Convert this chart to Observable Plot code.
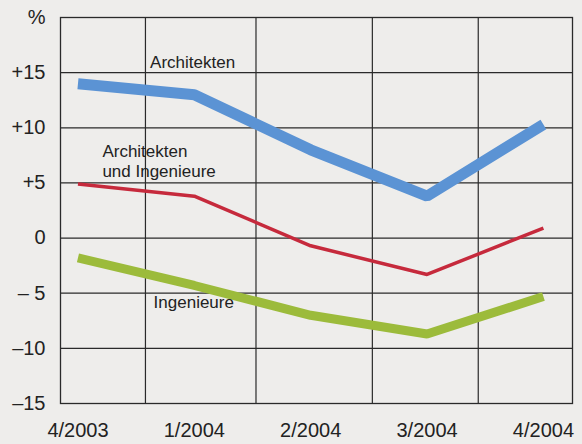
<!DOCTYPE html>
<html>
<head>
<meta charset="utf-8">
<script src="https://cdn.jsdelivr.net/npm/d3@7"></script>
<script src="https://cdn.jsdelivr.net/npm/@observablehq/plot@0.6"></script>
<style>
  html, body { margin: 0; padding: 0; background: #eeedeb; }
  #chart { width: 582px; height: 444px; }
</style>
</head>
<body>
<div id="chart"></div>
<script>
const categories = ["4/2003", "1/2004", "2/2004", "3/2004", "4/2004"];
const architekten = [14.0, 13.0, 8.0, 3.8, 10.3];
const archUndIng = [4.9, 3.8, -0.7, -3.3, 0.9];
const ingenieure = [-1.8, -4.3, -7.0, -8.7, -5.3];

const yTicks = [-15, -10, -5, 0, 5, 10, 15, 20];
const yTickLabels = ["\u201315", "\u201310", "\u2013 5", "0", "+5", "+10", "+15", "%"];
const gridX = [0.58, 1.53, 2.53, 3.44];

const seriesNames = ["Architekten", "Architekten und Ingenieure", "Ingenieure"];
const seriesColors = ["#5b93d4", "#c62a3c", "#9cbb3b"];
const seriesWidths = [11, 3.5, 9];

const labelTexts = ["Architekten", "Architekten\nund Ingenieure", "Ingenieure"];
const labelX = [0.62, 0.21, 0.65];
const labelY = [16.0, 7.0, -5.8];

const seriesValues = [architekten, archUndIng, ingenieure];
const rows = seriesValues.map((vals, s) =>
  vals.map((v, i) => ({series: seriesNames[s], i, v})));
const labels = labelTexts.map((t, k) => ({t, x: labelX[k], y: labelY[k]}));

const chart = Plot.plot({
  width: 582,
  height: 444,
  marginLeft: 60,
  marginRight: 10,
  marginTop: 17,
  marginBottom: 41,
  style: {background: "#eeedeb", fontFamily: "'Liberation Sans', Arial, sans-serif", color: "#222", overflow: "visible"},
  x: {domain: [-0.15, 4.25], ticks: [0, 1, 2, 3, 4], tickFormat: i => categories[i]},
  y: {domain: [-15, 20], ticks: yTicks, tickFormat: d => yTickLabels[yTicks.indexOf(d)]},
  marks: [
    Plot.ruleY(yTicks, {stroke: "#2a2a2a", strokeWidth: 1.2}),
    Plot.ruleX(gridX, {stroke: "#2a2a2a", strokeWidth: 1.2}),
    Plot.frame({stroke: "#2a2a2a", strokeWidth: 1.3}),
    Plot.axisX({ticks: [0, 1, 2, 3, 4], tickFormat: i => categories[i], tickSize: 0, tickPadding: 19, fontSize: 20, label: null}),
    Plot.axisY({ticks: yTicks, tickFormat: d => yTickLabels[yTicks.indexOf(d)], tickSize: 0, tickPadding: 15, fontSize: 20, label: null}),
    ...seriesValues.map((vals, s) =>
      Plot.line(rows[s], {x: "i", y: "v", stroke: seriesColors[s], strokeWidth: seriesWidths[s], strokeLinejoin: "miter", strokeLinecap: "butt"})),
    Plot.text(labels, {x: "x", y: "y", text: "t", textAnchor: "start", lineAnchor: "middle", fontSize: 17, lineHeight: 1.15, fill: "#222"})
  ]
});
document.getElementById("chart").appendChild(chart);
</script>
</body>
</html>
